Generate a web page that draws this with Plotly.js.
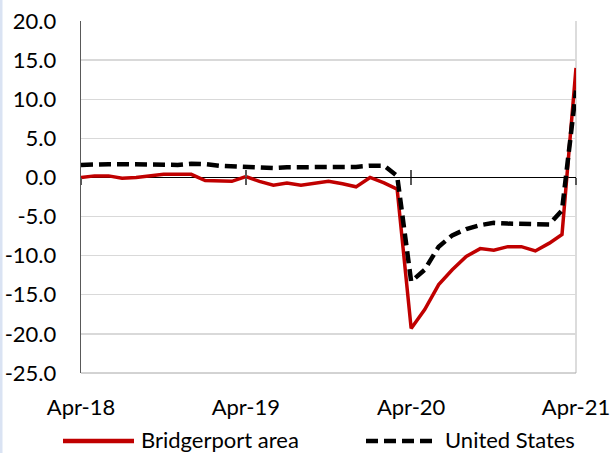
<!DOCTYPE html>
<html>
<head>
<meta charset="utf-8">
<script src="https://cdn.plot.ly/plotly-3.0.1.min.js"></script>
<style>
html,body{margin:0;padding:0;background:#fff;}
#chart{width:611px;height:453px;}
</style>
</head>
<body>
<div id="chart"></div>
<script>
const months = [
  '2018-04-01','2018-05-01','2018-06-01','2018-07-01','2018-08-01','2018-09-01','2018-10-01','2018-11-01','2018-12-01',
  '2019-01-01','2019-02-01','2019-03-01','2019-04-01','2019-05-01','2019-06-01','2019-07-01','2019-08-01','2019-09-01',
  '2019-10-01','2019-11-01','2019-12-01','2020-01-01','2020-02-01','2020-03-01','2020-04-01','2020-05-01','2020-06-01',
  '2020-07-01','2020-08-01','2020-09-01','2020-10-01','2020-11-01','2020-12-01','2021-01-01','2021-02-01','2021-03-01',
  '2021-04-01'
];
const bridgeport = [
  0.0, 0.2, 0.2, -0.1, 0.0, 0.2, 0.4, 0.4, 0.4,
  -0.4, -0.5, -0.5, 0.1, -0.5, -1.0, -0.7, -1.0, -0.8,
  -0.5, -0.8, -1.2, 0.0, -0.7, -1.5, -19.3, -16.9, -13.7,
  -11.8, -10.1, -9.1, -9.3, -8.85, -8.85, -9.4, -8.4, -7.3,
  14.0
];
const unitedStates = [
  1.6, 1.7, 1.7, 1.7, 1.7, 1.7, 1.65, 1.6, 1.75,
  1.7, 1.5, 1.45, 1.35, 1.2, 1.2, 1.3, 1.3, 1.3,
  1.35, 1.4, 1.35, 1.5, 1.5, 0.2, -13.3, -11.8, -8.85,
  -7.4, -6.6, -6.1, -5.8, -5.9, -5.95, -5.95, -6.0, -4.2,
  11.1
];
const seriesNames = ['Bridgerport area', 'United States'];
const seriesColors = ['#C00000', '#000000'];
const yTicks = [20, 15, 10, 5, 0, -5, -10, -15, -20, -25];
const xTicks = ['2018-04-01','2019-04-01','2020-04-01','2021-04-01'];
const xTickLabels = ['Apr-18','Apr-19','Apr-20','Apr-21'];

const FONT = 'Lato, "Open Sans", sans-serif';
const FS = 22;
const W = 611, H = 453;
const M = {l: 81, r: 35, t: 21, b: 80};
const PW = W - M.l - M.r, PH = H - M.t - M.b;
const px = v => (v - M.l) / PW;          // page px -> paper x
const py = v => (H - M.b - v) / PH;      // page px -> paper y
const yMin = -25, yMax = 20;
const zeroPos = (0 - yMin) / (yMax - yMin);
const DASH = '12px,6px';

const traces = [
  {x: months, y: bridgeport, name: seriesNames[0], type: 'scatter', mode: 'lines',
   line: {color: seriesColors[0], width: 3.5}},
  {x: months, y: unitedStates, name: seriesNames[1], type: 'scatter', mode: 'lines',
   line: {color: seriesColors[1], width: 4.5, dash: DASH}},
  {x: [months[0]], y: [0], xaxis: 'x2', showlegend: false, hoverinfo: 'skip', mode: 'none', type: 'scatter'},
  {x: [months[0]], y: [0], xaxis: 'x3', showlegend: false, hoverinfo: 'skip', mode: 'none', type: 'scatter'}
];

const commonX = {
  type: 'date', range: [months[0], months[months.length-1]],
  tickmode: 'array', tickvals: xTicks, ticktext: xTickLabels
};

// hand-built legend (long line samples like the original)
const legendLineY = py(441);
const legendTextY = py(439);
const legendItems = [
  {x0: 63, x1: 134, tx: 140},
  {x0: 366, x1: 437, tx: 444}
];
const legendShapes = legendItems.map((it, i) => ({
  type: 'line', xref: 'paper', yref: 'paper',
  x0: px(it.x0), x1: px(it.x1), y0: legendLineY, y1: legendLineY,
  line: {color: seriesColors[i], width: 4.5, dash: i === 0 ? 'solid' : DASH}
}));
const legendAnnotations = legendItems.map((it, i) => ({
  xref: 'paper', yref: 'paper', x: px(it.tx), y: legendTextY,
  xanchor: 'left', yanchor: 'middle', text: seriesNames[i], showarrow: false,
  font: {family: FONT, size: FS, color: '#000'}, borderpad: 0
}));

const layout = {
  width: W, height: H,
  margin: M,
  paper_bgcolor: '#ffffff', plot_bgcolor: '#ffffff',
  font: {family: FONT, size: FS, color: '#000000'},
  showlegend: false,
  xaxis: Object.assign({}, commonX, {
    showgrid: false, zeroline: false, showline: false, ticks: '',
    ticklabelstandoff: 19,
    tickfont: {family: FONT, size: FS, color: '#000'}
  }),
  xaxis2: Object.assign({}, commonX, {
    overlaying: 'x', anchor: 'free', position: zeroPos, side: 'bottom',
    showgrid: false, zeroline: false, showline: false, showticklabels: false,
    ticks: 'outside', ticklen: 7, tickwidth: 1.5, tickcolor: '#595959'
  }),
  xaxis3: Object.assign({}, commonX, {
    overlaying: 'x', anchor: 'free', position: zeroPos, side: 'bottom',
    showgrid: false, zeroline: false, showline: false, showticklabels: false,
    ticks: 'inside', ticklen: 7, tickwidth: 1.5, tickcolor: '#595959'
  }),
  yaxis: {
    range: [yMin, yMax], tickmode: 'array', tickvals: yTicks,
    ticktext: yTicks.map(v => v.toFixed(1)),
    showgrid: true, gridcolor: '#d9d9d9', gridwidth: 1.3,
    zeroline: true, zerolinecolor: '#000000', zerolinewidth: 1,
    showline: true, linecolor: '#595959', linewidth: 1.3,
    ticks: '', ticklabelstandoff: 19,
    tickfont: {family: FONT, size: FS, color: '#000'}
  },
  shapes: [
    {type: 'line', xref: 'paper', yref: 'paper', x0: 1, x1: 1, y0: 0, y1: 1,
     line: {color: '#d0d0d0', width: 1.5}, layer: 'below'},
    {type: 'line', xref: 'paper', yref: 'paper', x0: 0, x1: 1, y0: 0, y1: 0,
     line: {color: '#a6a6a6', width: 1}, layer: 'below'},
    {type: 'line', xref: 'paper', yref: 'paper', x0: px(1), x1: px(1), y0: py(H), y1: py(0),
     line: {color: '#dae3f3', width: 3}}
  ].concat(legendShapes),
  annotations: legendAnnotations
};

Plotly.newPlot('chart', traces, layout, {staticPlot: true, displayModeBar: false});
</script>
</body>
</html>
